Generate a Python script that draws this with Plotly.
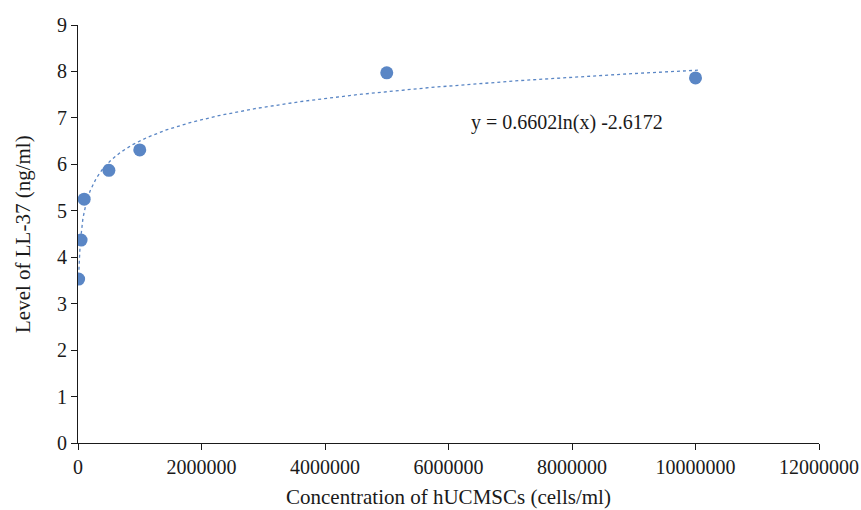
import numpy as np
import plotly.graph_objects as go

# Data
concentration = [10000, 50000, 100000, 500000, 1000000, 5000000, 10000000]
ll37_level = [3.53, 4.37, 5.25, 5.87, 6.31, 7.97, 7.86]
x_ticks = [0, 2000000, 4000000, 6000000, 8000000, 10000000, 12000000]
y_ticks = [0, 1, 2, 3, 4, 5, 6, 7, 8, 9]
fit_a = 0.6602
fit_b = -2.6172
equation_text = "y = 0.6602ln(x) -2.6172"
x_title = "Concentration of hUCMSCs (cells/ml)"
y_title = "Level of LL-37 (ng/ml)"

color = "#5A86C5"
font_family = "Liberation Serif, Times New Roman, serif"
text_color = "#1a1a1a"

# Logarithmic trendline from the displayed equation
tx = np.geomspace(15000, max(concentration) * 1.005, 400)
ty = fit_a * np.log(tx) + fit_b

fig = go.Figure()
fig.add_trace(go.Scatter(
    x=tx, y=ty, mode="lines",
    line=dict(color=color, width=1.3, dash="dot"),
    hoverinfo="skip", showlegend=False,
))
fig.add_trace(go.Scatter(
    x=concentration, y=ll37_level, mode="markers",
    marker=dict(color=color, size=13),
    showlegend=False,
))

fig.add_annotation(
    x=7920000, y=6.91, xref="x", yref="y",
    text=equation_text, showarrow=False,
    xanchor="center", yanchor="middle",
    font=dict(family=font_family, size=20, color=text_color),
)
fig.add_annotation(
    x=0.5, y=0, xref="paper", yref="paper",
    text=x_title, showarrow=False,
    xanchor="center", yanchor="middle", yshift=-54,
    font=dict(family=font_family, size=21, color=text_color),
)
fig.add_annotation(
    x=0, y=0.5, xref="paper", yref="paper",
    text=y_title, showarrow=False, textangle=-90,
    xanchor="center", yanchor="middle", xshift=-55,
    font=dict(family=font_family, size=21, color=text_color),
)

axis_common = dict(
    showgrid=False, zeroline=False, showline=True, automargin=False,
    linecolor=text_color, linewidth=1.2,
    ticks="outside", ticklen=6, tickwidth=1.2, tickcolor=text_color,
    tickfont=dict(family=font_family, size=20, color=text_color),
)

fig.update_layout(
    width=861, height=510,
    margin=dict(l=78, r=42, t=25, b=67),
    plot_bgcolor="white", paper_bgcolor="white",
    xaxis=dict(
        range=[0, 12000000], tickvals=x_ticks,
        ticktext=[str(v) for v in x_ticks],
        **axis_common,
    ),
    yaxis=dict(
        range=[0, 9], tickvals=y_ticks,
        **axis_common,
    ),
)

fig.write_html("out.html")
